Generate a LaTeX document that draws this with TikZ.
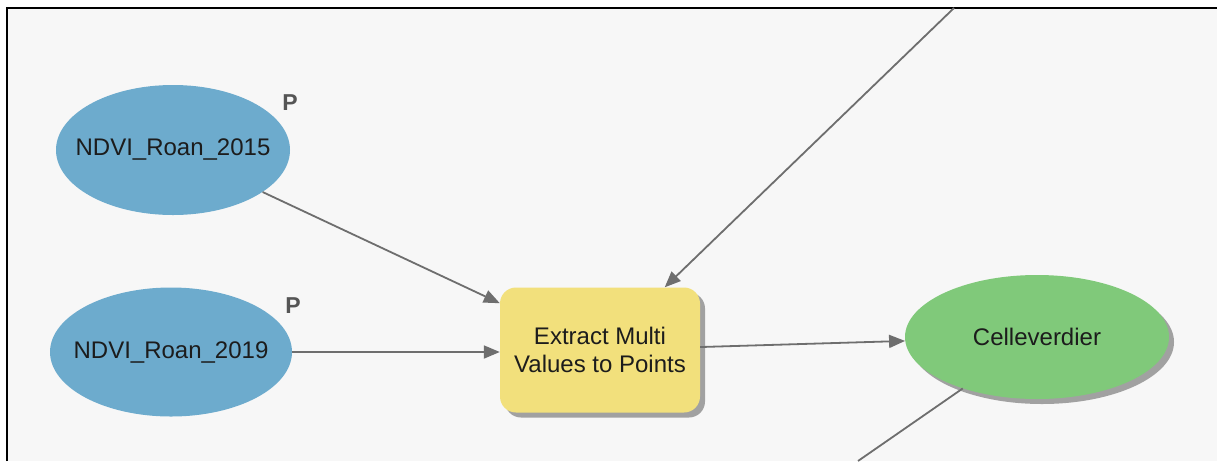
\documentclass[tikz,border=0pt]{standalone}
\usepackage{fontspec}
\setmainfont{Liberation Sans}
\usetikzlibrary{arrows.meta,shapes.geometric,shadows}
\definecolor{canvas}{HTML}{F7F7F7}
\definecolor{inputblue}{HTML}{6DABCD}
\definecolor{toolyellow}{HTML}{F2E07C}
\definecolor{outgreen}{HTML}{80C97A}
\definecolor{linkgray}{HTML}{6E6E6E}
\definecolor{labelink}{HTML}{1C1C1C}
\definecolor{paramgray}{HTML}{555555}
\tikzset{
  dataset/.style={ellipse, draw=none, inner sep=0pt, text=labelink,
    font=\fontsize{24}{28}\selectfont},
  inputdata/.style={dataset, fill=inputblue},
  outputdata/.style={dataset, fill=outgreen,
    drop shadow={shadow xshift=5pt, shadow yshift=-5pt, fill=black!45, opacity=0.8}},
  toolbox/.style={rectangle, rounded corners=16pt, fill=toolyellow, draw=none,
    minimum width=200pt, minimum height=125pt, align=center, text=labelink,
    font=\fontsize{24}{28}\selectfont,
    drop shadow={shadow xshift=5pt, shadow yshift=-5pt, fill=black!45, opacity=0.8}},
  parammark/.style={font=\bfseries\fontsize{23}{24}\selectfont, text=paramgray, inner sep=0pt},
  link/.style={draw=linkgray, line width=1.8pt, -{Triangle[length=16pt,width=13pt]}},
  plainlink/.style={draw=linkgray, line width=1.8pt}
}
\begin{document}
\begin{tikzpicture}[x=1pt,y=-1pt]
  \useasboundingbox (0,0) rectangle (1217,461);
  % model canvas with its frame on the top and left
  \fill[canvas] (7,8) rectangle (1217,461);
  \draw[line width=2pt, black] (7,461) -- (7,8) -- (1217,8);

  % input rasters
  \node[inputdata, minimum width=234pt, minimum height=130pt] (ndvi15) at (173,150)
    {\makebox[0pt]{NDVI\_Roan\_2015}};
  \node[parammark] (p15) at (290,103) {P};
  \node[inputdata, minimum width=242pt, minimum height=129pt] (ndvi19) at (171,352)
    {\makebox[0pt]{NDVI\_Roan\_2019}};
  \node[parammark] (p19) at (293,306) {P};

  % tool
  \node[toolbox] (extract) at (600,350) {Extract Multi\\Values to Points};

  % output point layer
  \node[outputdata, minimum width=264pt, minimum height=124pt] (cell) at (1037,337)
    {\makebox[0pt]{Celleverdier}};

  % connector ends outside the visible canvas
  \coordinate (fromtop) at (954,8);
  \coordinate (tobottom) at (858,461);

  % connectors
  \draw[link] (ndvi15) -- (extract);
  \draw[link] (ndvi19) -- (extract.west |- ndvi19);
  \draw[link] (fromtop) -- (extract);
  \draw[link] (extract) -- (cell);
  \draw[plainlink] (cell) -- (tobottom);
\end{tikzpicture}
\end{document}
